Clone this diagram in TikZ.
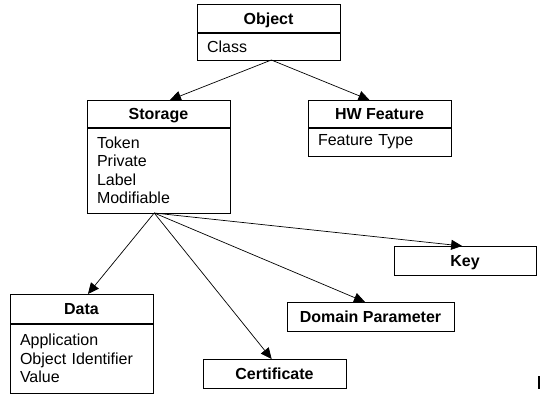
\documentclass[tikz,border=0pt]{standalone}
\usepackage{fontspec}
\setmainfont{Liberation Sans}
\usetikzlibrary{calc, positioning, arrows.meta}

\begin{document}
\begin{tikzpicture}[x=1pt, y=-1pt, every node/.style={font=\fontsize{16}{18.5}\selectfont, inner sep=0pt, outer sep=0pt},
    head/.style={draw, line width=1pt, anchor=north west, minimum width=143pt, minimum height=29pt, text height=11.5pt, text depth=0pt, font=\fontsize{16}{18.5}\selectfont\bfseries},
    body/.style={draw, line width=1pt, anchor=north west, text width=123pt, inner xsep=10pt, align=left},
    sep/.style={line width=2pt},
    link/.style={-{Triangle[length=11pt,width=10pt]}, line width=0.7pt}]
    \useasboundingbox (0,0) rectangle (541,402);
    \node[head] (obj) at (197,4) {Object};
    \node[body, minimum height=27pt] (objb) at (197,33) {Class};
    \node[head, minimum height=28pt] (stor) at (87,100) {Storage};
    \node[body, minimum height=85pt] (storb) at (87,128) {Token\\Private\\Label\\Modifiable};
    \node[head, minimum height=28pt] (hw) at (308,100) {HW Feature};
    \node[body, minimum height=28pt] (hwb) at (308,128) {Feature Type};
    \node[head, minimum width=142pt] (key) at (394,246) {Key};
    \node[head, minimum width=167pt] (dom) at (287,302) {Domain Parameter};
    \node[head] (cert) at (203,359) {Certificate};
    \node[head, minimum height=30pt] (data) at (10,294) {Data};
    \node[body, minimum height=69pt] (datab) at (10,324) {Application\\Object Identifier\\Value};
    \foreach \n in {obj,stor,hw,data} {
        \draw[sep] (\n.south west) -- (\n.south east);
    }
    \draw[link] ($(objb.south west)!0.52!(objb.south east)$) -- ($(stor.north west)!0.58!(stor.north east)$);
    \draw[link] ($(objb.south west)!0.52!(objb.south east)$) -- ($(hw.north west)!0.43!(hw.north east)$);
    \foreach \t/\p in {data/0.545, cert/0.48, dom/0.467, key/0.48} {
        \draw[link] ($(storb.south west)!0.47!(storb.south east)$) -- ($(\t.north west)!\p!(\t.north east)$);
    }
    \fill (538,376) rectangle (540,389);
\end{tikzpicture}
\end{document}
